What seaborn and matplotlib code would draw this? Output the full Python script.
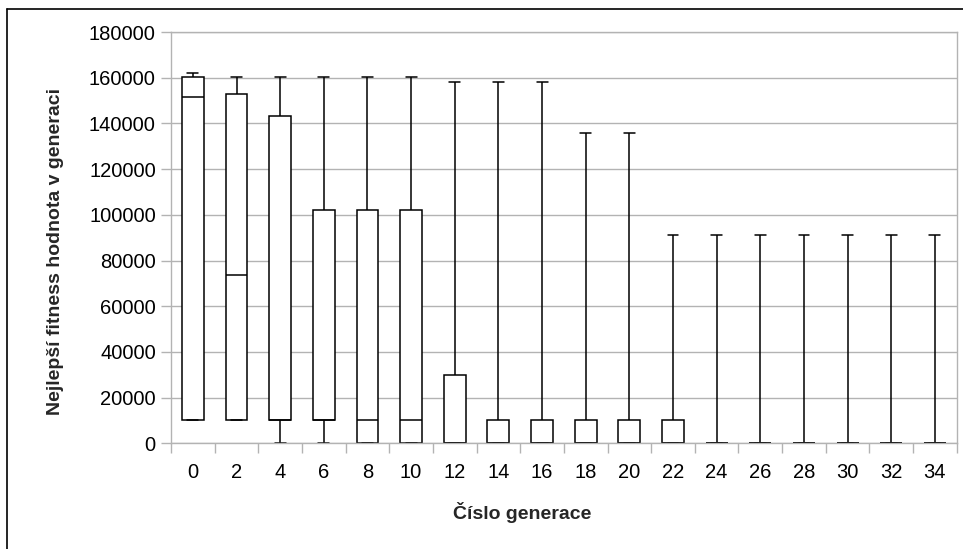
import matplotlib
matplotlib.use("Agg")
import matplotlib.pyplot as plt
from matplotlib.lines import Line2D
from matplotlib.ticker import FixedLocator
import numpy as np
import pandas as pd
import seaborn as sns

# Five-number summaries of the best fitness per generation
generations = [0, 2, 4, 6, 8, 10, 12, 14, 16, 18, 20, 22, 24, 26, 28, 30, 32, 34]
minimum = [10000, 10000, 0, 0, 0, 0, 0, 0, 0, 0, 0, 0, 0, 0, 0, 0, 0, 0]
q1 = [10000, 10000, 10000, 10000, 0, 0, 0, 0, 0, 0, 0, 0, 0, 0, 0, 0, 0, 0]
median = [151400, 73500, 10000, 10000, 10000, 10000, 0, 0, 0, 0, 0, 0, 0, 0, 0, 0, 0, 0]
q3 = [160400, 153000, 143300, 102000, 102000, 102000, 30000, 10000, 10000, 10000,
      10000, 10000, 0, 0, 0, 0, 0, 0]
maximum = [161900, 160400, 160400, 160400, 160400, 160400, 158000, 158000, 158000,
           136000, 136000, 91000, 91000, 91000, 91000, 91000, 91000, 91000]

y_ticks = list(range(0, 180001, 20000))

# Long table: each generation contributes its five summary values, so the
# quartiles computed by seaborn land exactly on q1 / median / q3.
rows = []
for g, a, b, c, d, e in zip(generations, minimum, q1, median, q3, maximum):
    for v in (a, b, c, d, e):
        rows.append({"gen": str(g), "fitness": v})
df = pd.DataFrame(rows)

sns.set_theme(style="white")
plt.rcParams["font.family"] = ["Liberation Sans", "DejaVu Sans"]

fig = plt.figure(figsize=(9.63, 5.49), dpi=100)
ax = fig.add_axes([0.1776, 0.1925, 0.9935 - 0.1776, 0.9417 - 0.1925])

grid_col = "#b3b3b3"
ax.set_axisbelow(True)
ax.yaxis.grid(True, color=grid_col, linewidth=1.0)

sns.boxplot(
    data=df, x="gen", y="fitness", order=[str(g) for g in generations],
    whis=(0, 100), width=0.5, color="white", linecolor="black",
    linewidth=1.1, saturation=1, showfliers=False, ax=ax,
)

ax.set_xlim(-0.5, len(generations) - 0.5)
ax.set_ylim(0, 180000)
ax.set_yticks(y_ticks)
ax.set_yticklabels([str(t) for t in y_ticks])

# Category labels centred, tick marks on the boundaries between categories
ax.xaxis.set_minor_locator(FixedLocator(np.arange(-0.5, len(generations), 1.0)))
ax.tick_params(axis="x", which="major", length=0, pad=14, labelsize=14.5, colors="black")
ax.tick_params(axis="x", which="minor", length=7, width=1, color=grid_col, direction="out")
ax.tick_params(axis="y", which="major", length=7, width=1, color=grid_col,
               direction="out", pad=4, labelsize=14.5, labelcolor="black")
ax.tick_params(axis="both", which="both", bottom=True, left=True)

for side in ("left", "bottom", "right", "top"):
    ax.spines[side].set_visible(True)
    ax.spines[side].set_color(grid_col)
    ax.spines[side].set_linewidth(1.0)

ax.set_xlabel("Číslo generace", fontsize=14, fontweight="bold")
ax.set_ylabel("Nejlepší fitness hodnota v generaci", fontsize=14, fontweight="bold")
ax.xaxis.label.set_va("center")
ax.yaxis.label.set_va("center")
ax.xaxis.set_label_coords(0.4467, -0.167)
ax.yaxis.set_label_coords(-0.1476, 0.466)

# Page frame along the top and left edges
fig.add_artist(Line2D([7 / 963, 1.0], [1 - 9 / 549, 1 - 9 / 549],
                      transform=fig.transFigure, color="black", linewidth=1.2))
fig.add_artist(Line2D([7 / 963, 7 / 963], [0.0, 1 - 9 / 549],
                      transform=fig.transFigure, color="black", linewidth=1.2))

fig.savefig("out.png", dpi=100)
